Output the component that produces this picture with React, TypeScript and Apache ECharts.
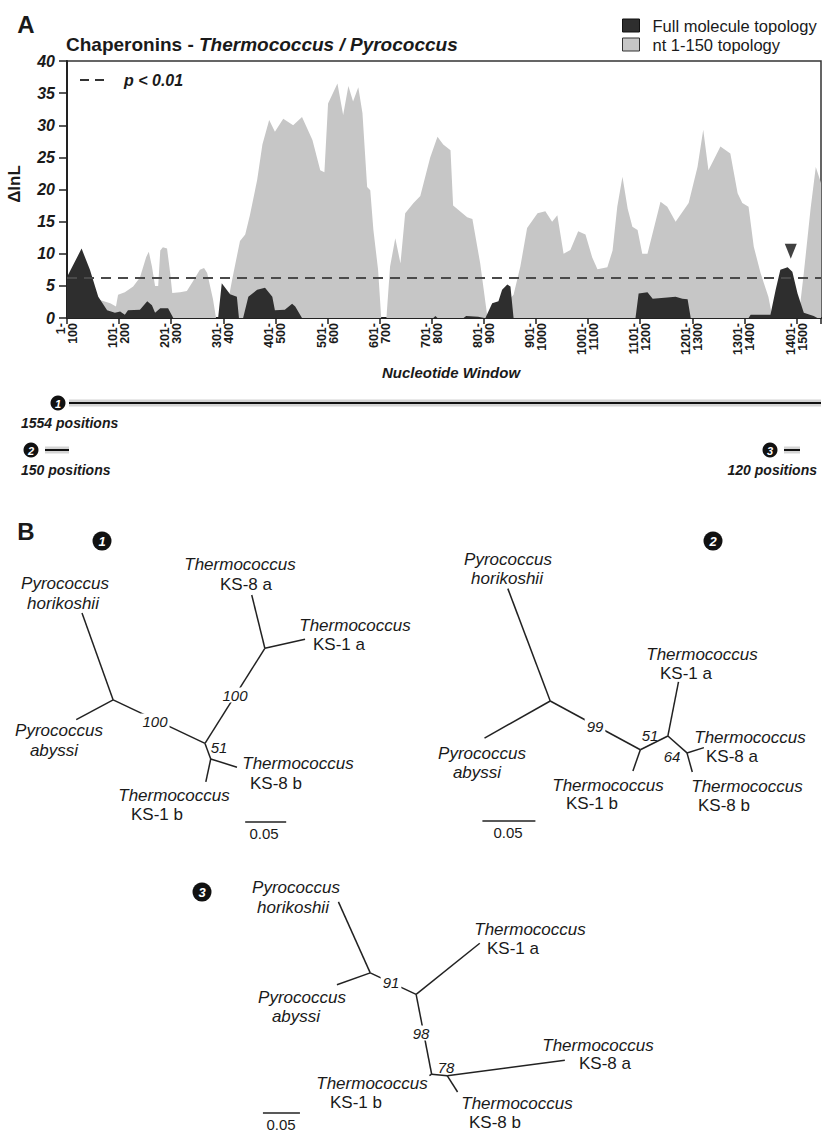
import React, { useEffect, useRef } from 'react';
import * as echarts from 'echarts';

const FONT = "'Liberation Sans', Arial, Helvetica, sans-serif";
const INK = '#1a1a1a';

// ---- Panel A data: ΔlnL along sliding nucleotide windows (x = window start - 1)
const fullMoleculeTopology: [number, number][] = [
  [0, 6.4], [28, 10.8], [44, 7.5], [60, 3.3], [77, 1.2], [92, 0.8], [102, 1], [111, 0.5], [117, 1.2],
  [140, 1.3], [154, 2.6], [163, 2], [169, 0.8], [179, 1.5], [194, 1.5], [204, 0], [290, 0], [297, 5.4],
  [313, 3.7], [326, 3.3], [330, 0], [338, 0], [348, 3.3], [365, 4.4], [380, 4.7], [394, 3.3], [399, 1.2],
  [418, 1.3], [432, 2.2], [438, 1.8], [451, 0], [703, 0], [707, 0.3], [711, 0], [761, 0], [766, 0.3],
  [789, 0.2], [801, 0], [803, 0], [816, 2.3], [828, 2.6], [835, 4.4], [845, 5.2], [851, 4.9], [857, 0],
  [1091, 0], [1097, 3.8], [1114, 4], [1124, 3], [1152, 3.2], [1168, 3.3], [1181, 3], [1191, 2.9], [1197, 0],
  [1308, 0], [1312, 0.5], [1350, 0.5], [1360, 4.4], [1369, 7.5], [1383, 7.9], [1392, 7.2], [1402, 3.8],
  [1414, 0.8], [1433, 0.3], [1440, 0]
];

const nt150Topology: [number, number][] = [
  [0, 2], [35, 2.5], [63, 2.8], [83, 2.3], [94, 1.8], [98, 3.6], [111, 4], [127, 4.9], [140, 6.3],
  [152, 9.5], [157, 10.3], [163, 8], [169, 5], [175, 5], [179, 10.5], [184, 11], [192, 10.8], [198, 7],
  [202, 3.9], [217, 4], [230, 4.2], [240, 5.5], [255, 7.5], [263, 7.8], [269, 7], [280, 3], [286, 0],
  [303, 0], [317, 6], [332, 12], [342, 13], [351, 16], [365, 21.5], [375, 27], [388, 30.8], [399, 29],
  [415, 31], [434, 30], [451, 31.3], [471, 27.7], [486, 23], [494, 22.7], [501, 33.4], [519, 36.5],
  [530, 31.6], [540, 36.1], [549, 33.7], [559, 35.9], [567, 31.9], [576, 20.4], [582, 19.9], [588, 13.7],
  [597, 7.5], [603, 0], [613, 0], [620, 8], [630, 12.4], [640, 8.5], [649, 16.3], [665, 17.9], [678, 19],
  [697, 25], [711, 28.2], [722, 27], [736, 26.1], [741, 17.5], [768, 15.7], [778, 15.4], [793, 8.5],
  [807, 0], [820, 0.5], [832, 1.5], [857, 3.6], [870, 8], [883, 14], [903, 16.3], [918, 16.6], [931, 15],
  [941, 16], [953, 10], [966, 10.6], [981, 13.5], [995, 13], [1008, 9.4], [1018, 7.6], [1037, 7.9],
  [1047, 10.5], [1056, 17.3], [1066, 22], [1076, 17], [1085, 14.2], [1095, 13.7], [1104, 10], [1114, 10],
  [1139, 18.1], [1152, 17.3], [1168, 15], [1193, 17.9], [1210, 23.5], [1221, 29.3], [1231, 23],
  [1241, 24.6], [1254, 26.7], [1273, 25.6], [1287, 19.4], [1296, 17.9], [1308, 17.3], [1318, 11.1],
  [1331, 7], [1346, 3.3], [1354, 0], [1404, 0], [1414, 7], [1427, 17], [1437, 23.5], [1447, 21]
];

const significanceThreshold = 6.2; // p < 0.01
const arrowMarker: [number, number][] = [[1389, 10.4]];
const windowMax = 1447;
const seriesNames = ['Full molecule topology', 'nt 1-150 topology'];

// ---- Panel B data: unrooted trees, node coordinates in substitutions/site
type Node = [string, number, number];
const tree1Nodes: Node[] = [
  ['Ph', 0.100, 0.289], ['A', 0.138, 0.183], ['Pa', 0.093, 0.159], ['B', 0.250, 0.130], ['C', 0.323, 0.246],
  ['K8a', 0.307, 0.311], ['K1a', 0.372, 0.257], ['D', 0.257, 0.111], ['K8b', 0.289, 0.101], ['K1b', 0.251, 0.083]
];
const tree2Nodes: Node[] = [
  ['Ph', 0.064, 0.223], ['A', 0.104, 0.117], ['Pa', 0.042, 0.082], ['B', 0.189, 0.071], ['K1b', 0.182, 0.051],
  ['C', 0.215, 0.084], ['K1a', 0.225, 0.135], ['D', 0.233, 0.068], ['K8a', 0.249, 0.073], ['K8b', 0.238, 0.050]
];
const tree3Nodes: Node[] = [
  ['Ph', 0.133, 0.307], ['A', 0.176, 0.211], ['Pa', 0.131, 0.195], ['B', 0.238, 0.182], ['K1a', 0.324, 0.251],
  ['C', 0.259, 0.074], ['K1b', 0.256, 0.072], ['D', 0.280, 0.072], ['K8a', 0.439, 0.093], ['K8b', 0.294, 0.050]
];
const tree1Branches: [string, string][] = [['A', 'Ph'], ['A', 'Pa'], ['A', 'B'], ['B', 'C'], ['C', 'K8a'], ['C', 'K1a'], ['B', 'D'], ['D', 'K8b'], ['D', 'K1b']];
const tree2Branches: [string, string][] = [['A', 'Ph'], ['A', 'Pa'], ['A', 'B'], ['B', 'K1b'], ['B', 'C'], ['C', 'K1a'], ['C', 'D'], ['D', 'K8a'], ['D', 'K8b']];
const tree3Branches: [string, string][] = [['A', 'Ph'], ['A', 'Pa'], ['A', 'B'], ['B', 'K1a'], ['B', 'C'], ['C', 'K1b'], ['C', 'D'], ['D', 'K8a'], ['D', 'K8b']];
const scaleBarLength = 0.05;
const tree1ScaleStart: [number, number] = [0.299, 0.0345];
const tree2ScaleStart: [number, number] = [0.040, 0.004];
const tree3ScaleStart: [number, number] = [0.031, 0.022];

function treeSeries(nodes: Node[], branches: [string, string][], scaleStart: [number, number], idx: number) {
  const pos: Record<string, [number, number]> = {};
  nodes.forEach(([n, x, y]) => { pos[n] = [x, y]; });
  const data = branches.map(([a, b]) => ({ coords: [pos[a], pos[b]] }));
  data.push({ coords: [scaleStart, [scaleStart[0] + scaleBarLength, scaleStart[1]]] });
  return {
    type: 'lines', coordinateSystem: 'cartesian2d', xAxisIndex: idx, yAxisIndex: idx,
    polyline: false, silent: true, z: 5,
    lineStyle: { color: '#222', width: 1.5, opacity: 1, curveness: 0 },
    data
  };
}

function T(text: string, x: number, y: number, o: any = {}) {
  return {
    type: 'text', x, y, z: 100, rotation: o.rotation || 0,
    style: {
      text, fill: INK, fontFamily: FONT, fontSize: o.size || 17,
      fontStyle: o.italic ? 'italic' : 'normal', fontWeight: o.bold ? 'bold' : 'normal',
      align: o.align || 'center', verticalAlign: 'middle',
      backgroundColor: o.bg, padding: o.bg ? [0, 2] : 0
    }
  };
}
function badge(n: string, cx: number, cy: number, r = 9.5, fs = 13) {
  return [
    { type: 'circle', z: 100, shape: { cx, cy, r }, style: { fill: '#111' } },
    { type: 'text', x: cx, y: cy + 0.5, z: 101, style: { text: n, fill: '#fff', fontFamily: FONT, fontSize: fs, fontWeight: 'bold', fontStyle: 'italic', align: 'center', verticalAlign: 'middle' } }
  ];
}
function leaf(top: string, bottom: string, x1: number, y1: number, x2: number, y2: number, bottomItalic: boolean) {
  return [T(top, x1, y1, { italic: true }), T(bottom, x2, y2, { italic: bottomItalic })];
}
function posBar(x1: number, x2: number, y: number) {
  return [
    { type: 'line', z: 90, shape: { x1, y1: y, x2, y2: y }, style: { stroke: '#d4d4d4', lineWidth: 7 } },
    { type: 'line', z: 91, shape: { x1, y1: y, x2, y2: y }, style: { stroke: '#111', lineWidth: 2 } }
  ];
}

export default function App() {
  const ref = useRef<HTMLDivElement>(null);
  useEffect(() => {
    document.body.style.margin = '0';
    const chart = echarts.init(ref.current!, null, { renderer: 'svg' });
    const hidden = { show: false };
    const graphic: any[] = [
      T('A', 26, 24, { bold: true, size: 24 }),
      T('B', 26, 531, { bold: true, size: 24 }),
      { type: 'line', z: 100, shape: { x1: 80, y1: 80, x2: 108, y2: 80 }, style: { stroke: '#333', lineWidth: 2, lineDash: [9, 6] } },
      T('p < 0.01', 124, 80, { bold: true, italic: true, size: 16, align: 'left' }),
      T('ΔlnL', 14, 184, { bold: true, size: 17, rotation: Math.PI / 2 }),
      T('Nucleotide Window', 451, 372, { bold: true, italic: true, size: 15 }),
      ...posBar(69, 821, 403), ...badge('1', 58, 403, 7.5, 11),
      T('1554 positions', 21, 423, { bold: true, italic: true, size: 14, align: 'left' }),
      ...posBar(45, 69, 450), ...badge('2', 31, 450, 7.5, 11),
      T('150 positions', 21, 470, { bold: true, italic: true, size: 14, align: 'left' }),
      ...posBar(784, 800, 450), ...badge('3', 770, 450, 7.5, 11),
      T('120 positions', 817, 470, { bold: true, italic: true, size: 14, align: 'right' }),
      // Tree 1
      ...badge('1', 102, 541),
      ...leaf('Pyrococcus', 'horikoshii', 65, 583, 63, 603, true),
      ...leaf('Pyrococcus', 'abyssi', 59, 730, 54, 750, true),
      ...leaf('Thermococcus', 'KS-8 a', 240, 564, 246, 584, false),
      ...leaf('Thermococcus', 'KS-1 a', 355, 625, 339, 644, false),
      ...leaf('Thermococcus', 'KS-8 b', 298, 763, 276, 783, false),
      ...leaf('Thermococcus', 'KS-1 b', 174, 795, 157, 814, false),
      T('100', 155, 721, { italic: true, size: 15, bg: '#fff' }),
      T('100', 235, 695, { italic: true, size: 15, bg: '#fff' }),
      T('51', 219, 747, { italic: true, size: 15 }),
      T('0.05', 264, 833, { size: 15 }),
      // Tree 2
      ...badge('2', 713, 541),
      ...leaf('Pyrococcus', 'horikoshii', 508, 559, 507, 578, true),
      ...leaf('Pyrococcus', 'abyssi', 482, 753, 477, 772, true),
      ...leaf('Thermococcus', 'KS-1 a', 702, 654, 686, 673, false),
      ...leaf('Thermococcus', 'KS-8 a', 750, 737, 732, 756, false),
      ...leaf('Thermococcus', 'KS-1 b', 608, 785, 592, 803, false),
      ...leaf('Thermococcus', 'KS-8 b', 747, 786, 724, 805, false),
      T('99', 595, 726, { italic: true, size: 15, bg: '#fff' }),
      T('51', 650, 735, { italic: true, size: 15 }),
      T('64', 672, 756, { italic: true, size: 15 }),
      T('0.05', 508, 832, { size: 15 }),
      // Tree 3
      ...badge('3', 202, 892),
      ...leaf('Pyrococcus', 'horikoshii', 296, 887, 293, 907, true),
      ...leaf('Pyrococcus', 'abyssi', 302, 997, 296, 1016, true),
      ...leaf('Thermococcus', 'KS-1 a', 530, 929, 513, 948, false),
      ...leaf('Thermococcus', 'KS-8 a', 598, 1045, 605, 1063, false),
      ...leaf('Thermococcus', 'KS-1 b', 372, 1083, 356, 1102, false),
      ...leaf('Thermococcus', 'KS-8 b', 517, 1103, 495, 1122, false),
      T('91', 391, 982, { italic: true, size: 15, bg: '#fff' }),
      T('98', 421, 1033, { italic: true, size: 15, bg: '#fff' }),
      T('78', 446, 1067, { italic: true, size: 15 }),
      T('0.05', 281, 1124, { size: 15 })
    ];

    chart.setOption({
      animation: false,
      backgroundColor: '#fff',
      title: {
        text: '{a|Chaperonins - }{b|Thermococcus / Pyrococcus}',
        left: 66, top: 35, padding: 0,
        textStyle: {
          rich: {
            a: { fontFamily: FONT, fontWeight: 'bold', fontSize: 19, color: INK },
            b: { fontFamily: FONT, fontWeight: 'bold', fontStyle: 'italic', fontSize: 19, color: INK }
          }
        }
      },
      legend: {
        orient: 'vertical', left: 622, top: 17, padding: 0, itemGap: 2,
        itemWidth: 17, itemHeight: 13, icon: 'rect', selectedMode: false,
        textStyle: { fontFamily: FONT, fontSize: 16.5, color: INK, padding: [0, 0, 0, 8] },
        data: [
          { name: seriesNames[0], itemStyle: { color: '#2e2e2e', borderColor: '#111', borderWidth: 1 } },
          { name: seriesNames[1], itemStyle: { color: '#c6c6c6', borderColor: '#333', borderWidth: 1 } }
        ]
      },
      grid: [
        { left: 67, right: 4, top: 61, bottom: 814, show: true, borderColor: '#333', borderWidth: 1.5, backgroundColor: 'transparent' },
        { left: 0, top: 522, width: 410, height: 328 },
        { left: 440, top: 560, width: 318, height: 265 },
        { left: 240, top: 870, width: 370, height: 259 }
      ],
      xAxis: [
        {
          type: 'value', gridIndex: 0, min: 0, max: windowMax, interval: 100,
          axisLine: { show: true, lineStyle: { color: '#222', width: 2 } },
          axisTick: { show: true, length: 6, lineStyle: { color: '#222', width: 1.5 } },
          splitLine: { show: false },
          axisLabel: {
            rotate: 90, margin: 5, fontFamily: FONT, fontWeight: 'bold', fontSize: 12.5, lineHeight: 12, color: INK,
            formatter: (v: number) => (v % 100 === 0 && v <= 1400 ? `${v + 1}-\n${v + 100}` : '')
          }
        },
        { type: 'value', gridIndex: 1, min: 0, max: 0.5, ...hidden },
        { type: 'value', gridIndex: 2, min: 0, max: 0.3, ...hidden },
        { type: 'value', gridIndex: 3, min: 0, max: 0.5, ...hidden }
      ],
      yAxis: [
        {
          type: 'value', gridIndex: 0, min: 0, max: 40, interval: 5,
          axisLine: { show: true, lineStyle: { color: '#222', width: 2 } },
          axisTick: { show: true, length: 8, lineStyle: { color: '#222', width: 1.5 } },
          splitLine: { show: false },
          axisLabel: { margin: 12, fontFamily: FONT, fontWeight: 'bold', fontStyle: 'italic', fontSize: 16, color: INK }
        },
        { type: 'value', gridIndex: 1, min: 0, max: 0.4, ...hidden },
        { type: 'value', gridIndex: 2, min: 0, max: 0.25, ...hidden },
        { type: 'value', gridIndex: 3, min: 0, max: 0.35, ...hidden }
      ],
      series: [
        {
          name: seriesNames[1], type: 'line', data: nt150Topology, showSymbol: false, symbol: 'none',
          color: '#c6c6c6', lineStyle: { width: 0 }, areaStyle: { color: '#c6c6c6', opacity: 1 }, z: 2,
          markLine: {
            silent: true, symbol: 'none', label: { show: false },
            lineStyle: { color: '#4a4a4a', width: 2, type: [10, 7] },
            data: [{ yAxis: significanceThreshold }]
          }
        },
        {
          name: seriesNames[0], type: 'line', data: fullMoleculeTopology, showSymbol: false, symbol: 'none',
          color: '#2e2e2e', lineStyle: { width: 0 }, areaStyle: { color: '#2e2e2e', opacity: 1 }, z: 4
        },
        {
          name: 'arrow', type: 'scatter', data: arrowMarker, symbol: 'triangle', symbolRotate: 180,
          symbolSize: [12, 15], itemStyle: { color: '#111' }, z: 6, silent: true
        },
        treeSeries(tree1Nodes, tree1Branches, tree1ScaleStart, 1),
        treeSeries(tree2Nodes, tree2Branches, tree2ScaleStart, 2),
        treeSeries(tree3Nodes, tree3Branches, tree3ScaleStart, 3)
      ],
      graphic
    });
    return () => chart.dispose();
  }, []);
  return <div ref={ref} style={{ width: 825, height: 1132 }} />;
}
